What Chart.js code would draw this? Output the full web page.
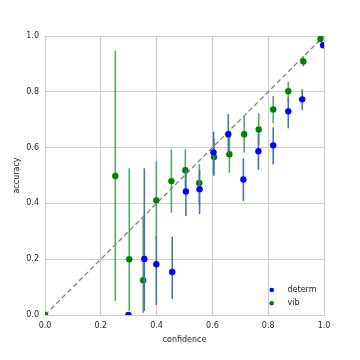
<!DOCTYPE html>
<html>
<head>
<meta charset="utf-8">
<script src="https://cdn.jsdelivr.net/npm/chart.js@4"></script>
<style>
  body { margin: 0; background: #fff; }
  #wrap { width: 360px; height: 360px; }
</style>
</head>
<body>
<div id="wrap"><canvas id="calib" width="360" height="360"></canvas></div>
<script>
// reference diagonal
const diagX = [0, 1];
const diagY = [0, 1];

// vib (green)
const vibConf = [0.0, 0.252, 0.302, 0.352, 0.399, 0.453, 0.503, 0.553, 0.606, 0.661, 0.714, 0.766, 0.818, 0.872, 0.926, 0.987];
const vibAcc  = [0.0, 0.498, 0.200, 0.125, 0.411, 0.480, 0.519, 0.473, 0.566, 0.576, 0.648, 0.665, 0.737, 0.802, 0.909, 0.989];
const vibLo   = [0.0, 0.051, 0.015, 0.008, 0.271, 0.367, 0.445, 0.394, 0.500, 0.510, 0.582, 0.608, 0.687, 0.763, 0.890, 0.985];
const vibHi   = [0.0, 0.947, 0.526, 0.347, 0.551, 0.594, 0.594, 0.541, 0.633, 0.655, 0.711, 0.723, 0.785, 0.836, 0.928, 0.993];

// determ (blue)
const detConf = [0.299, 0.356, 0.399, 0.456, 0.505, 0.554, 0.604, 0.657, 0.711, 0.765, 0.818, 0.872, 0.922, 0.997];
const detAcc  = [0.0, 0.201, 0.182, 0.154, 0.443, 0.451, 0.583, 0.648, 0.486, 0.587, 0.608, 0.730, 0.773, 0.967];
const detLo   = [0.0, 0.014, 0.036, 0.058, 0.355, 0.362, 0.500, 0.580, 0.409, 0.520, 0.540, 0.669, 0.735, 0.967];
const detHi   = [0.0, 0.526, 0.281, 0.281, 0.520, 0.520, 0.657, 0.720, 0.562, 0.650, 0.673, 0.780, 0.809, 0.967];

const tickVals = [0, 0.2, 0.4, 0.6, 0.8, 1.0];

const pts = (xs, ys) => xs.map((x, i) => ({x: x, y: ys[i]}));

Chart.defaults.font.family = 'DejaVu Sans';
Chart.defaults.font.size = 8;
Chart.defaults.color = '#262626';

// vertical error bars, drawn just before each dataset's markers
const errorBars = {
    id: 'errorBars',
    beforeDatasetDraw(chart, args) {
        const ds = chart.data.datasets[args.index];
        if (!ds.errLo) return;
        const ctx = chart.ctx, xs = chart.scales.x, ys = chart.scales.y;
        ctx.save();
        ctx.strokeStyle = ds.errColor;
        ctx.lineWidth = 1.6;
        ds.data.forEach((p, i) => {
            if (ds.errHi[i] - ds.errLo[i] <= 0) return;
            const px = xs.getPixelForValue(p.x);
            ctx.beginPath();
            ctx.moveTo(px, ys.getPixelForValue(ds.errLo[i]));
            ctx.lineTo(px, ys.getPixelForValue(ds.errHi[i]));
            ctx.stroke();
        });
        ctx.restore();
    },
    afterDraw(chart) {
        // legend in the lower right of the plot
        const ctx = chart.ctx, a = chart.chartArea;
        const items = chart.data.datasets.filter(d => d.label);
        ctx.save();
        ctx.font = '8px "DejaVu Sans"';
        ctx.textBaseline = 'middle';
        items.forEach((d, i) => {
            const y = a.bottom - 25 + i * 13.3;
            ctx.fillStyle = d.backgroundColor;
            ctx.beginPath();
            ctx.arc(a.right - 52.3, y, 2.3, 0, Math.PI * 2);
            ctx.fill();
            ctx.fillStyle = '#262626';
            ctx.fillText(d.label, a.right - 36.5, y);
        });
        ctx.restore();
    }
};

new Chart(document.getElementById('calib'), {
    type: 'scatter',
    data: {
        datasets: [
            {
                label: 'determ',
                data: pts(detConf, detAcc),
                errLo: detLo, errHi: detHi, errColor: '#4c72b0',
                backgroundColor: '#0000ff', borderColor: '#0000ff',
                pointRadius: 3.2, borderWidth: 0, clip: 0, order: 0
            },
            {
                label: 'vib',
                data: pts(vibConf, vibAcc),
                errLo: vibLo, errHi: vibHi, errColor: '#55a868',
                backgroundColor: '#008000', borderColor: '#008000',
                pointRadius: 3.2, borderWidth: 0, clip: 0, order: 1
            },
            {
                type: 'line',
                data: pts(diagX, diagY),
                borderColor: '#808080', borderWidth: 1.3, borderDash: [5, 3],
                pointRadius: 0, fill: false, order: 2
            }
        ]
    },
    options: {
        responsive: false,
        animation: false,
        devicePixelRatio: 1,
        layout: { padding: { left: 0, right: 36, top: 36, bottom: 0 } },
        plugins: { legend: { display: false }, tooltip: { enabled: false } },
        scales: {
            x: {
                type: 'linear', min: 0, max: 1,
                afterFit: s => { s.height = 45; },
                afterBuildTicks: s => { s.ticks = tickVals.map(v => ({value: v})); },
                grid: { color: '#cccccc', lineWidth: 1, drawTicks: false },
                border: { color: '#cccccc' },
                ticks: { padding: 6, autoSkip: false, maxRotation: 0, callback: v => v.toFixed(1) },
                title: { display: true, text: 'confidence', padding: { top: 0, bottom: 15 } }
            },
            y: {
                type: 'linear', min: 0, max: 1,
                afterFit: s => { s.width = 45; },
                afterBuildTicks: s => { s.ticks = tickVals.map(v => ({value: v})); },
                grid: { color: '#cccccc', lineWidth: 1, drawTicks: false },
                border: { color: '#cccccc' },
                ticks: { padding: 6, autoSkip: false, callback: v => v.toFixed(1) },
                title: { display: true, text: 'accuracy', padding: { top: 12, bottom: 0 } }
            }
        }
    },
    plugins: [errorBars]
});
</script>
</body>
</html>
